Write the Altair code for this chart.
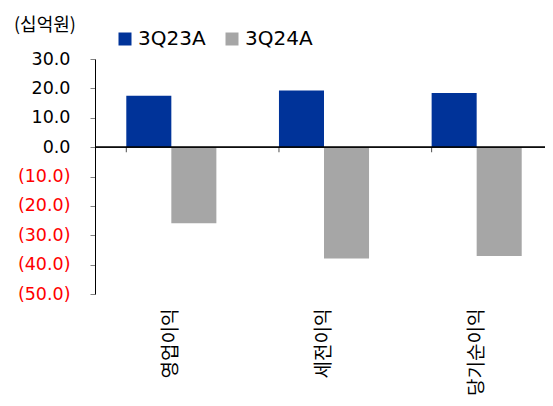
import altair as alt
import pandas as pd

categories = ["영업이익", "세전이익", "당기순이익"]
series_names = ["3Q23A", "3Q24A"]
q23 = [17.5, 19.3, 18.4]
q24 = [-25.9, -37.9, -37.1]
colors = ["#003399", "#A6A6A6"]
y_ticks = [30, 20, 10, 0, -10, -20, -30, -40, -50]

rows = []
for c, a, b in zip(categories, q23, q24):
    rows.append({"cat": c, "series": series_names[0], "value": a})
    rows.append({"cat": c, "series": series_names[1], "value": b})
df = pd.DataFrame(rows)

num_font = "DejaVu Sans"
kr_font = "Noto Sans CJK KR"

label_expr = ("datum.value < 0 ? '(' + format(-datum.value, '.1f') + ')' : "
              "format(datum.value, '.1f') + '\u2004'")

x_scale = alt.Scale(domain=categories, paddingInner=0.41, paddingOuter=0.205)
y_scale = alt.Scale(domain=[-50, 30], nice=False)
y_axis = alt.Axis(values=y_ticks, labelExpr=label_expr, grid=False,
                  domainColor="#000000", tickColor="#808080", tickSize=5,
                  labelOverlap=False,
                  labelPadding=20, labelFont=num_font, labelFontSize=17.5,
                  labelColor={"condition": {"test": "datum.value < 0", "value": "#FF0000"},
                              "value": "#000000"})
x_axis = alt.Axis(orient="bottom", labelAngle=-90, domain=False, ticks=False,
                  labelPadding=14, labelFont=kr_font, labelFontSize=19,
                  labelColor="#000000", labelAlign="right", labelBaseline="middle",
                  labelOverlap=False)

bars = alt.Chart(df).mark_bar().encode(
    x=alt.X("cat:N", scale=x_scale, sort=categories, title=None, axis=x_axis),
    xOffset=alt.XOffset("series:N", sort=series_names),
    y=alt.Y("value:Q", scale=y_scale, title=None, axis=y_axis),
    color=alt.Color("series:N", sort=series_names,
                    scale=alt.Scale(domain=series_names, range=colors),
                    legend=alt.Legend(title=None, orient="none", direction="horizontal",
                                      legendX=20, legendY=-30, padding=0,
                                      symbolType="square", symbolSize=169, symbolStrokeWidth=0,
                                      symbolOpacity=1, labelFont=num_font, labelFontSize=20,
                                      labelOffset=3, columnPadding=16, labelColor="#000000")),
)

base_df = pd.DataFrame({"cat": categories, "value": [0, 0, 0]})

zero = alt.Chart(base_df).mark_rule(color="#000000", strokeWidth=1).encode(
    y=alt.Y("value:Q", scale=y_scale, title=None, axis=y_axis)
)

ticks = alt.Chart(base_df).mark_tick(
    color="#000000", orient="vertical", size=5, thickness=1, yOffset=2.5
).encode(
    x=alt.X("cat:N", scale=x_scale, sort=categories, title=None, axis=x_axis, bandPosition=0),
    y=alt.Y("value:Q", scale=y_scale, title=None, axis=y_axis),
)

chart = alt.layer(bars, zero, ticks).properties(
    width=458,
    height=235,
    autosize=alt.AutoSizeParams(type="none"),
    padding={"left": 87, "top": 51, "right": -8, "bottom": 104},
    title=alt.TitleParams("(십억원)", anchor="start", frame="group", dx=-81, dy=10,
                          font=kr_font, fontSize=18, fontWeight="normal", color="#000000"),
).configure_view(stroke=None)

chart.save("out.html", embed_options={"renderer": "svg", "actions": False})
